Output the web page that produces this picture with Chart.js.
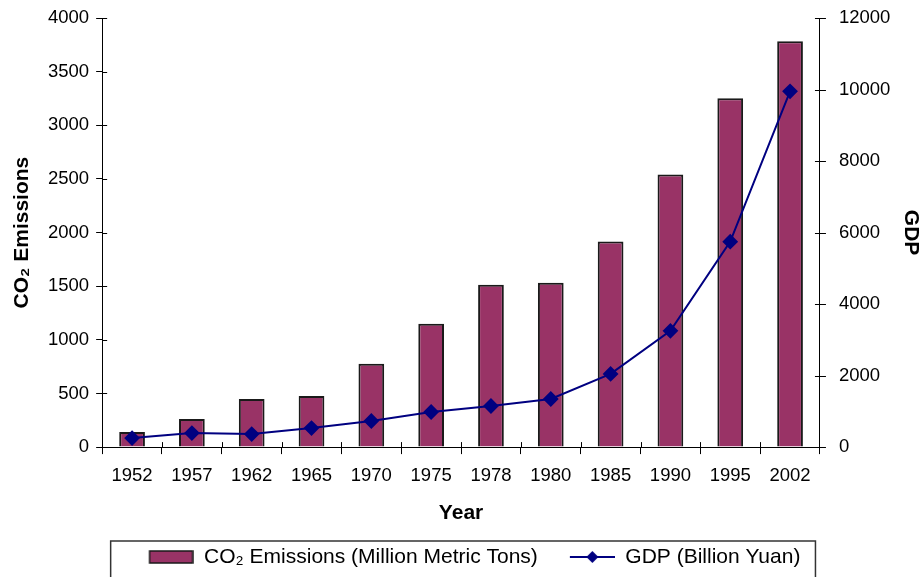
<!DOCTYPE html>
<html><head><meta charset="utf-8">
<script src="https://cdn.jsdelivr.net/npm/chart.js@4/dist/chart.umd.min.js"></script>
<style>html,body{margin:0;padding:0;background:#fff;}canvas{display:block;}</style>
</head><body>
<canvas id="c" width="921" height="577"></canvas>
<script>
const years = ['1952','1957','1962','1965','1970','1975','1978','1980','1985','1990','1995','2002'];
const co2Emissions = [140, 262, 449, 477, 776, 1150, 1514, 1533, 1916, 2542, 3252, 3785];
const gdp = [252, 392, 364, 533, 729, 981, 1149, 1346, 2047, 3252, 5747, 9952];
const co2Label = 'CO₂ Emissions (Million Metric Tons)';
const gdpLabel = 'GDP (Billion Yuan)';

const FONT = "'Liberation Sans', Arial, sans-serif";
const BAR = '#993366';
const LINE = '#000080';
const TICK_FONT = { family: FONT, size: 18.5 };
const TITLE_FONT = { family: FONT, size: 21, weight: 'bold', lineHeight: 1 };
const LEGEND_FONT = { family: FONT, size: 21 };
const ICON_BLANK = 22, ICON_W = 45;

function iconCanvas(){
  const c = document.createElement('canvas'); c.width = ICON_BLANK + ICON_W; c.height = 16;
  return c;
}
function barIcon(){
  const c = iconCanvas(), x = c.getContext('2d');
  x.fillStyle = BAR; x.fillRect(ICON_BLANK + 1, 2, ICON_W - 2, 12);
  x.strokeStyle = '#1a1a1a'; x.lineWidth = 1.5; x.strokeRect(ICON_BLANK + 1, 2, ICON_W - 2, 12);
  return c;
}
function lineIcon(){
  const c = iconCanvas(), x = c.getContext('2d');
  x.strokeStyle = LINE; x.lineWidth = 2;
  x.beginPath(); x.moveTo(ICON_BLANK, 8); x.lineTo(ICON_BLANK + ICON_W, 8); x.stroke();
  const m = ICON_BLANK + ICON_W / 2;
  x.fillStyle = LINE; x.beginPath();
  x.moveTo(m, 2); x.lineTo(m + 6, 8); x.lineTo(m, 14); x.lineTo(m - 6, 8); x.closePath(); x.fill();
  return c;
}
const icons = [barIcon(), lineIcon()];

const decorations = {
  id: 'decorations',
  afterDraw(chart){
    const lg = chart.legend, ca = chart.chartArea, ctx = chart.ctx;
    ctx.save();
    // legend frame
    ctx.strokeStyle = '#333'; ctx.lineWidth = 1.5;
    ctx.strokeRect(ca.left + 8.5, lg.top + 4.5, ca.right - ca.left - 13, lg.bottom - lg.top + 20);
    // crossing tick marks
    ctx.strokeStyle = '#000'; ctx.lineWidth = 1;
    const L = 5;
    ctx.beginPath();
    chart.scales.y.ticks.forEach((t, i) => {
      const p = Math.round(chart.scales.y.getPixelForTick(i)) + 0.5;
      ctx.moveTo(ca.left, p); ctx.lineTo(ca.left + L, p);
    });
    chart.scales.y1.ticks.forEach((t, i) => {
      const p = Math.round(chart.scales.y1.getPixelForTick(i)) + 0.5;
      ctx.moveTo(ca.right + 6, p); ctx.lineTo(ca.right - L, p);
    });
    const xs = chart.scales.x, n = xs.ticks.length, w = (ca.right - ca.left) / n;
    for (let i = 1; i < n; i++) {
      const p = Math.round(xs.getPixelForTick(i) - w / 2) + 0.5;
      ctx.moveTo(p, ca.bottom); ctx.lineTo(p, ca.bottom - L);
    }
    ctx.stroke();
    ctx.restore();
  }
};

new Chart(document.getElementById('c'), {
  type: 'bar',
  data: {
    labels: years,
    datasets: [
      { type: 'line', label: gdpLabel, data: gdp, yAxisID: 'y1', order: 0,
        borderColor: LINE, backgroundColor: LINE, borderWidth: 2,
        pointStyle: 'rectRot', pointRadius: 6.5, pointHoverRadius: 6.5, tension: 0 },
      { type: 'bar', label: co2Label, data: co2Emissions, yAxisID: 'y', order: 1,
        backgroundColor: BAR, borderColor: '#1a1a1a', borderWidth: 2,
        categoryPercentage: 1.0, barPercentage: 0.43 }
    ]
  },
  options: {
    responsive: false, animation: false,
    layout: { padding: { top: 0, left: 6, right: 0, bottom: -0.5 } },
    plugins: {
      tooltip: { enabled: false },
      legend: {
        position: 'bottom',
        reverse: true,
        labels: {
          color: '#000', font: LEGEND_FONT,
          usePointStyle: true, pointStyleWidth: ICON_BLANK + ICON_W, boxHeight: 16, padding: 10,
          generateLabels(chart){
            const items = Chart.defaults.plugins.legend.labels.generateLabels(chart);
            items.forEach(it => { it.pointStyle = icons[it.datasetIndex === 1 ? 0 : 1]; });
            return items;
          }
        }
      }
    },
    scales: {
      x: {
        grid: { display: true, drawOnChartArea: false, color: '#000', tickLength: 7, offset: true },
        border: { display: true, color: '#000', width: 1 },
        ticks: { color: '#000', font: TICK_FONT, maxRotation: 0, padding: 11 },
        title: { display: true, text: 'Year', color: '#000', font: TITLE_FONT, padding: { top: 4.3, bottom: 12.9 } }
      },
      y: {
        position: 'left', min: 0, max: 4000,
        grid: { display: true, drawOnChartArea: false, color: '#000', tickLength: 6 },
        border: { display: true, color: '#000', width: 1 },
        ticks: { stepSize: 500, color: '#000', font: TICK_FONT, padding: 7, callback: v => String(v) },
        title: { display: true, text: 'CO₂ Emissions', color: '#000', font: TITLE_FONT, padding: { top: 5.5, bottom: 8.5 } }
      },
      y1: {
        position: 'right', min: 0, max: 12000,
        grid: { display: true, drawOnChartArea: false, color: '#000', tickColor: 'rgba(0,0,0,0)', tickLength: 12 },
        border: { display: true, color: '#000', width: 1 },
        ticks: { stepSize: 2000, color: '#000', font: TICK_FONT, padding: 7, callback: v => String(v) },
        title: { display: true, text: 'GDP', color: '#000', font: TITLE_FONT, padding: { top: -0.5, bottom: 3.1 } }
      }
    }
  },
  plugins: [decorations]
});
</script>
</body></html>
